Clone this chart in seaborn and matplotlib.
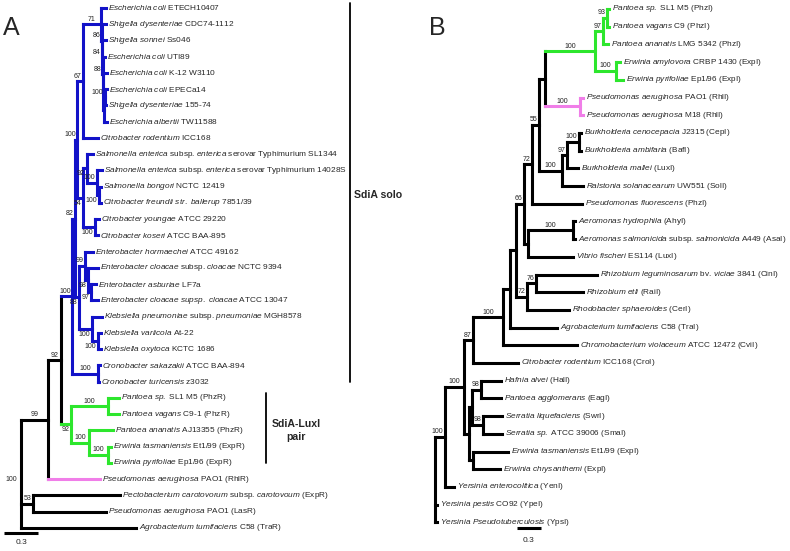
"""
Two LuxR / LuxI phylogenies (panels A and B) drawn as rectangular cladograms.
"""
import matplotlib
matplotlib.use('Agg')
import matplotlib.pyplot as plt
from matplotlib.transforms import offset_copy
import pandas as pd
import seaborn as sns

# ---------------------------------------------------------------- data ----
# leaf labels, *...* marks the italic part of a name
LEAVES_A = [
    "*Escherichia coli* ETECH10407",
    "*Shigella dysenteriae* CDC74-1112",
    "*Shigella sonnei* Ss046",
    "*Escherichia coli* UTI89",
    "*Escherichia coli* K-12 W3110",
    "*Escherichia coli* EPECa14",
    "*Shigella dysenteriae* 155-74",
    "*Escherichia albertii* TW11588",
    "*Citrobacter rodentium* ICC168",
    "*Salmonella enterica* subsp. *enterica* serovar Typhimurium SL1344",
    "*Salmonella enterica* subsp. *enterica* serovar Typhimurium 14028S",
    "*Salmonella bongori* NCTC 12419",
    "*Citrobacter freundii str. ballerup* 7851/39",
    "*Citrobacter youngae* ATCC 29220",
    "*Citrobacter koseri* ATCC BAA-895",
    "*Enterobacter hormaechei* ATCC 49162",
    "*Enterobacter cloacae* subsp. *cloacae* NCTC 9394",
    "*Enterobacter asburiae* LF7a",
    "*Enterobacter cloacae supsp. cloacae* ATCC 13047",
    "*Klebsiella pneumoniae* subsp. *pneumoniae* MGH8578",
    "*Klebsiella variicola* At-22",
    "*Klebsiella oxytoca* KCTC 1686",
    "*Cronobacter sakazakii* ATCC BAA-894",
    "*Cronobacter turicensis* z3032",
    "*Pantoea sp.* SL1 M5 (PhzR)",
    "*Pantoea vagans* C9-1 (PhzR)",
    "*Pantoea ananatis* AJ13355 (PhzR)",
    "*Erwinia tasmaniensis* Et1/99 (ExpR)",
    "*Erwinia pyrifoliae* Ep1/96 (ExpR)",
    "*Pseudomonas aeruginosa* PAO1 (RhlR)",
    "*Pectobacterium carotovorum* subsp. *carotovoum* (ExpR)",
    "*Pseudomonas aeruginosa* PAO1 (LasR)",
    "*Agrobacterium tumifaciens* C58 (TraR)",
]

# topology, branch lengths and bootstrap support (leaves = index in LEAVES_A)
NEWICK_A = (
    "((((((((0:0.044,(1:0.035,(2:0.031,(3:0.018,(4:0.031,((5:0.018,6:0.009)100:0.009,"
    "7:0.026):0.004):0.004)88:0.004)84:0.004)86:0.009)71:0.159,8:0.132)67:0.044,"
    "((9:0.053,(10:0.044,(11:0.018,12:0.018)100:0.018)100:0.088)92:0.035,"
    "(13:0.035,14:0.026)100:0.106)54:0.044)100:0.018,"
    "((15:0.062,(16:0.088,(17:0.044,18:0.062)97:0.026)98:0.018)99:0.053,"
    "(19:0.088,(20:0.026,21:0.026)100:0.053)100:0.106)88:0.035)82:0.026,"
    "(22:0.018,23:0.009)100:0.221)100:0.097,"
    "((24:0.097,25:0.097)100:0.318,(26:0.212,(27:0.026,28:0.026)100:0.168)100:0.150)92:0.088"
    ")92:0.115,29:0.450)99:0.238,(30:0.759,31:0.635)53:0.106,32:1.006)100;"
)

# coloured clades, given by their first and last leaf
CLADES_A = {(0, 23): 'blue', (24, 28): 'green', (29, 29): 'pink'}
# brackets on the right of panel A
GROUPS_A = [("SdiA solo", 0, 23), ("SdiA-LuxI\npair", 24, 28)]

LEAVES_B = [
    "*Pantoea sp.* SL1 M5 (PhzI)",
    "*Pantoea vagans* C9 (PhzI)",
    "*Pantoea ananatis* LMG 5342 (PhzI)",
    "*Erwinia amylovora* CRBP 1430 (ExpI)",
    "*Erwinia pyrifoliae* Ep1/96 (ExpI)",
    "*Pseudomonas aeruginosa* PAO1 (RhlI)",
    "*Pseudomonas aeruginosa* M18 (RhlI)",
    "*Burkholderia cenocepacia* J2315 (CepI)",
    "*Burkholderia ambifaria* (BafI)",
    "*Burkholderia mallei* (LuxI)",
    "*Ralstonia solanacearum* UW551 (SolI)",
    "*Pseudomonas fluorescens* (PhzI)",
    "*Aeromonas hydrophila* (AhyI)",
    "*Aeromonas salmonicida* subsp. *salmonicida* A449 (AsaI)",
    "*Vibrio fischeri* ES114 (LuxI)",
    "*Rhizobium leguminosarum* bv. *viciae* 3841 (CinI)",
    "*Rhizobium etli* (RaiI)",
    "*Rhodobacter sphaeroides* (CerI)",
    "*Agrobacterium tumifaciens* C58 (TraI)",
    "*Chromobacterium violaceum* ATCC 12472 (CviI)",
    "*Citrobacter rodentium* ICC168 (CroI)",
    "*Hafnia alvei* (HalI)",
    "*Pantoea agglomerans* (EagI)",
    "*Serratia liquefaciens* (SwrI)",
    "*Serratia sp.* ATCC 39006 (SmaI)",
    "*Erwinia tasmaniensis* Et1/99 (ExpI)",
    "*Erwinia chrysanthemi* (ExpI)",
    "*Yersinia enterocolitica* (YenI)",
    "*Yersinia pestis* CO92 (YpeI)",
    "*Yersinia Pseudotuberculosis* (YpsI)",
]

NEWICK_B = (
    "((((((((((((((0:0.026,1:0.026)93:0.051,2:0.064)97:0.102,"
    "(3:0.051,4:0.089)100:0.268)100:0.639,(5:0.038,6:0.038)100:0.447):0.077,"
    "(((7:0.026,8:0.026)100:0.153,9:0.140)97:0.064,10:0.268)100:0.294)55:0.089,"
    "11:0.639)72:0.102,((12:0.026,13:0.026)100:0.575,14:0.575):0.051)66:0.102,"
    "((15:0.779,16:0.600)76:0.115,17:0.536)72:0.140):0.077,18:0.600):0.089,"
    "19:0.945)100:0.383,20:0.575)87:0.115,"
    "(((21:0.255,22:0.255)98:0.115,(23:0.243,24:0.243)98:0.140):0.038,"
    "(25:0.447,26:0.345):0.051):0.064)100:0.243,27:0.115)100:0.128,"
    "28:0.026,29:0.026);"
)

CLADES_B = {(0, 4): 'green', (5, 6): 'pink'}

SCALE_BAR = 0.3

# --------------------------------------------------------------- style ----
W, H = 790, 551
COLOURS = {'black': '#000000', 'blue': '#1212c8', 'green': '#2de62d', 'pink': '#f07ee8'}
LEAF_FS = 5.95
SUPPORT_FS = 5.0

# pixel geometry of each panel (root position, px per tree unit, leaf rows)
PANEL_A = dict(left=0, right=395, root=21, ppu=34.3 / 0.3, top=8, step=16.25)
PANEL_B = dict(left=395, right=790, root=435, ppu=23.5 / 0.3, top=9, step=17.7)

# support values drawn under their branch (first leaf, last leaf)
BELOW_A = [(9, 12), (9, 14), (11, 12), (13, 14), (15, 21), (16, 18), (17, 18),
           (19, 21), (20, 21), (24, 28)]


def parse_newick(text):
    text = ''.join(text.split())
    pos = 0

    def read_node():
        nonlocal pos
        node = {'children': []}
        if text[pos] == '(':
            pos += 1
            node['children'].append(read_node())
            while text[pos] == ',':
                pos += 1
                node['children'].append(read_node())
            assert text[pos] == ')'
            pos += 1
        start = pos
        while text[pos] not in ':,);':
            pos += 1
        node['name'] = text[start:pos]
        node['len'] = 0.0
        if text[pos] == ':':
            pos += 1
            start = pos
            while text[pos] not in ',);':
                pos += 1
            node['len'] = float(text[start:pos])
        return node

    tree = read_node()
    assert text[pos] == ';'
    return tree


def layout(tree, clades):
    def walk(node, x_parent):
        node['x'] = x_parent + node['len']
        kids = node['children']
        if kids:
            for kid in kids:
                walk(kid, node['x'])
            node['y'] = (kids[0]['y'] + kids[-1]['y']) / 2
            node['span'] = (kids[0]['span'][0], kids[-1]['span'][1])
        else:
            i = int(node['name'])
            node['y'] = i
            node['span'] = (i, i)

    nodes = []

    def paint(node, colour, parent):
        colour = clades.get(node['span'], colour)
        node['colour'] = colour
        node['parent'] = parent
        nodes.append(node)
        for kid in node['children']:
            paint(kid, colour, node)

    walk(tree, 0.0)
    paint(tree, 'black', None)
    return nodes


def to_mathtext(label):
    parts = label.split('*')
    out = []
    for k, part in enumerate(parts):
        if not part:
            continue
        if k % 2:
            out.append(r'$\mathit{' + part.replace(' ', r'\ ') + '}$')
        else:
            out.append(part)
    return ''.join(out)


def make_axes(fig, p):
    ax = fig.add_axes([p['left'] / W, 0, (p['right'] - p['left']) / W, 1])
    return ax


def set_limits(ax, p):
    ax.set_xlim((p['left'] - p['root']) / p['ppu'], (p['right'] - p['root']) / p['ppu'])
    ax.set_ylim((H - p['top']) / p['step'], -p['top'] / p['step'])
    ax.axis('off')


def px_x(p, px):
    return (px - p['root']) / p['ppu']


def px_y(p, py):
    return (py - p['top']) / p['step']


def draw_tree(fig, ax, p, leaves, newick, clades, below, root_label=True):
    nodes = layout(parse_newick(newick), clades)

    rows = []
    seg = 0
    for n in nodes:
        kids = n['children']
        if not kids:
            continue
        rows += [dict(seg=seg, x=n['x'], y=kids[0]['y'], colour=n['colour']),
                 dict(seg=seg, x=n['x'], y=kids[-1]['y'], colour=n['colour'])]
        seg += 1
        for kid in kids:
            rows += [dict(seg=seg, x=n['x'], y=kid['y'], colour=kid['colour']),
                     dict(seg=seg, x=kid['x'], y=kid['y'], colour=kid['colour'])]
            seg += 1
    segs = pd.DataFrame(rows)

    sns.lineplot(data=segs, x='x', y='y', units='seg', hue='colour', palette=COLOURS,
                 estimator=None, sort=False, legend=False, lw=2.2,
                 solid_capstyle='projecting', ax=ax)
    set_limits(ax, p)

    for n in nodes:
        if not n['children']:
            ax.text(n['x'], n['y'], to_mathtext(leaves[int(n['name'])]),
                    transform=offset_copy(ax.transData, fig=fig, x=2.5, y=0, units='dots'),
                    ha='left', va='center', fontsize=LEAF_FS)
            continue
        if not n['name']:
            continue
        if n['parent'] is None:
            if root_label:
                ax.text(n['x'], n['y'], n['name'],
                        transform=offset_copy(ax.transData, fig=fig, x=-4, y=-2, units='dots'),
                        ha='right', va='top', fontsize=SUPPORT_FS)
            continue
        x0 = n['parent']['x']
        length_px = (n['x'] - x0) * p['ppu']
        if length_px >= 13:
            xt, ha, dx = (x0 + n['x']) / 2, 'center', 0
        else:
            xt, ha, dx = n['x'], 'right', -1.5
        if n['span'] in below:
            va, dy = 'top', -2.0
        else:
            va, dy = 'bottom', 1.5
        ax.text(xt, n['y'], n['name'],
                transform=offset_copy(ax.transData, fig=fig, x=dx, y=dy, units='dots'),
                ha=ha, va=va, fontsize=SUPPORT_FS, color='#222222')


sns.set_theme(style='white')
plt.rcParams['font.family'] = ['Liberation Sans', 'DejaVu Sans']
plt.rcParams['mathtext.fontset'] = 'custom'
plt.rcParams['mathtext.it'] = 'Liberation Sans:italic'
plt.rcParams['mathtext.rm'] = 'Liberation Sans'

fig = plt.figure(figsize=(W / 100, H / 100), dpi=100)

# ------------------------------------------------------------ panel A ----
axA = make_axes(fig, PANEL_A)
draw_tree(fig, axA, PANEL_A, LEAVES_A, NEWICK_A, CLADES_A, BELOW_A)

bracket_px = [(349.5, 354, 'left'), (266, 296, 'center')]
for (label, lo, hi), (bx, tx, ha) in zip(GROUPS_A, bracket_px):
    axA.plot([px_x(PANEL_A, bx)] * 2, [lo - 0.3, hi], color='black', lw=1.3)
    axA.text(px_x(PANEL_A, tx), (lo + hi) / 2, label, ha=ha, va='center',
             fontsize=7.6, fontweight='bold', linespacing=1.3)

x0 = px_x(PANEL_A, 4)
axA.plot([x0, x0 + SCALE_BAR], [px_y(PANEL_A, 533)] * 2, color='black', lw=2.2,
         solid_capstyle='butt')
axA.text(x0 + SCALE_BAR / 2, px_y(PANEL_A, 543), f"{SCALE_BAR}", ha='center', va='center',
         fontsize=6)

# ------------------------------------------------------------ panel B ----
axB = make_axes(fig, PANEL_B)
draw_tree(fig, axB, PANEL_B, LEAVES_B, NEWICK_B, CLADES_B, [], root_label=False)

x0 = px_x(PANEL_B, 517)
axB.plot([x0, x0 + SCALE_BAR], [px_y(PANEL_B, 528)] * 2, color='black', lw=2.2,
         solid_capstyle='butt')
axB.text(x0 + SCALE_BAR / 2, px_y(PANEL_B, 540), f"{SCALE_BAR}", ha='center', va='center',
         fontsize=6)

fig.text(11.5 / W, 1 - 28 / H, 'A', ha='center', va='center', fontsize=18)
fig.text(437 / W, 1 - 28 / H, 'B', ha='center', va='center', fontsize=18)

fig.savefig('out.png', dpi=100, facecolor='white')
plt.close(fig)
